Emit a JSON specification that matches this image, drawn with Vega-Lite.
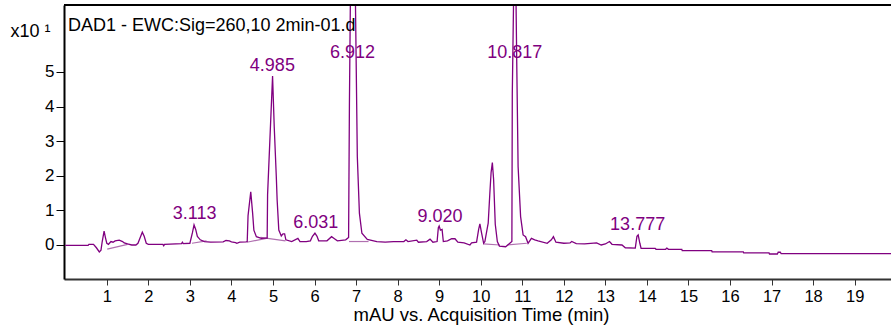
{
  "$schema": "https://vega.github.io/schema/vega-lite/v6.json",
  "width": 827,
  "height": 274,
  "autosize": {"type": "none"},
  "padding": {"left": 64, "top": 5, "right": 0, "bottom": 50},
  "background": "white",
  "config": {"view": {"stroke": null}, "font": "Liberation Sans"},
  "title": {
    "text": "DAD1 - EWC:Sig=260,10 2min-01.d",
    "anchor": "start",
    "frame": "group",
    "orient": "top",
    "baseline": "alphabetic",
    "offset": -45,
    "dx": 4,
    "fontSize": 18,
    "fontWeight": "normal",
    "color": "black",
    "font": "Liberation Sans"
  },
  "datasets": {
    "trace": [
      {"time": 0.0, "signal": -0.01}, {"time": 0.55, "signal": -0.01}, {"time": 0.57, "signal": 0.02},
      {"time": 0.68, "signal": 0.02}, {"time": 0.75, "signal": -0.08}, {"time": 0.82, "signal": -0.2},
      {"time": 0.86, "signal": -0.15}, {"time": 0.89, "signal": 0.1}, {"time": 0.935, "signal": 0.4},
      {"time": 0.97, "signal": 0.2}, {"time": 1.0, "signal": 0.05}, {"time": 1.04, "signal": 0.02},
      {"time": 1.1, "signal": 0.1}, {"time": 1.15, "signal": 0.08}, {"time": 1.2, "signal": 0.12},
      {"time": 1.3, "signal": 0.14}, {"time": 1.38, "signal": 0.1}, {"time": 1.42, "signal": 0.06},
      {"time": 1.5, "signal": 0.03}, {"time": 1.6, "signal": 0.0}, {"time": 1.7, "signal": 0.0},
      {"time": 1.75, "signal": 0.05}, {"time": 1.8, "signal": 0.2}, {"time": 1.855, "signal": 0.37},
      {"time": 1.9, "signal": 0.25}, {"time": 1.95, "signal": 0.05}, {"time": 2.0, "signal": 0.02},
      {"time": 2.35, "signal": 0.02}, {"time": 2.37, "signal": -0.02}, {"time": 2.39, "signal": 0.02},
      {"time": 2.8, "signal": 0.04}, {"time": 2.82, "signal": 0.08}, {"time": 2.84, "signal": 0.04},
      {"time": 3.0, "signal": 0.05}, {"time": 3.06, "signal": 0.35}, {"time": 3.1, "signal": 0.58},
      {"time": 3.14, "signal": 0.45}, {"time": 3.18, "signal": 0.25}, {"time": 3.25, "signal": 0.15},
      {"time": 3.35, "signal": 0.1}, {"time": 3.5, "signal": 0.08}, {"time": 3.8, "signal": 0.09},
      {"time": 3.87, "signal": 0.13}, {"time": 3.95, "signal": 0.12}, {"time": 4.0, "signal": 0.09},
      {"time": 4.1, "signal": 0.07}, {"time": 4.13, "signal": 0.05}, {"time": 4.2, "signal": 0.08},
      {"time": 4.35, "signal": 0.09}, {"time": 4.38, "signal": 0.1}, {"time": 4.4, "signal": 0.85},
      {"time": 4.465, "signal": 1.54}, {"time": 4.51, "signal": 0.92}, {"time": 4.54, "signal": 0.43},
      {"time": 4.6, "signal": 0.24}, {"time": 4.72, "signal": 0.19}, {"time": 4.83, "signal": 0.2},
      {"time": 4.86, "signal": 0.2}, {"time": 4.87, "signal": 1.45}, {"time": 4.99, "signal": 4.88},
      {"time": 5.03, "signal": 3.42}, {"time": 5.08, "signal": 1.97}, {"time": 5.1, "signal": 1.3},
      {"time": 5.14, "signal": 0.43}, {"time": 5.2, "signal": 0.26}, {"time": 5.24, "signal": 0.32},
      {"time": 5.28, "signal": 0.32}, {"time": 5.31, "signal": 0.15}, {"time": 5.45, "signal": 0.1},
      {"time": 5.6, "signal": 0.19}, {"time": 5.65, "signal": 0.1}, {"time": 5.8, "signal": 0.1},
      {"time": 5.9, "signal": 0.12}, {"time": 5.95, "signal": 0.25}, {"time": 6.01, "signal": 0.34},
      {"time": 6.06, "signal": 0.25}, {"time": 6.1, "signal": 0.12}, {"time": 6.3, "signal": 0.12},
      {"time": 6.41, "signal": 0.24}, {"time": 6.48, "signal": 0.18}, {"time": 6.55, "signal": 0.12},
      {"time": 6.75, "signal": 0.15}, {"time": 6.82, "signal": 0.22}, {"time": 6.84, "signal": 4.1},
      {"time": 6.87, "signal": 8.0}, {"time": 6.912, "signal": 9.5}, {"time": 6.98, "signal": 7.5},
      {"time": 7.0, "signal": 5.5}, {"time": 7.03, "signal": 2.55}, {"time": 7.08, "signal": 0.92},
      {"time": 7.14, "signal": 0.34}, {"time": 7.27, "signal": 0.16}, {"time": 7.5, "signal": 0.1},
      {"time": 7.7, "signal": 0.08}, {"time": 7.9, "signal": 0.1}, {"time": 8.15, "signal": 0.1},
      {"time": 8.2, "signal": 0.15}, {"time": 8.25, "signal": 0.1}, {"time": 8.46, "signal": 0.14},
      {"time": 8.5, "signal": 0.08}, {"time": 8.7, "signal": 0.1}, {"time": 8.78, "signal": 0.17},
      {"time": 8.85, "signal": 0.08}, {"time": 8.95, "signal": 0.1}, {"time": 8.98, "signal": 0.5},
      {"time": 9.0, "signal": 0.55}, {"time": 9.03, "signal": 0.43}, {"time": 9.07, "signal": 0.45},
      {"time": 9.1, "signal": 0.1}, {"time": 9.2, "signal": 0.12}, {"time": 9.3, "signal": 0.18},
      {"time": 9.38, "signal": 0.18}, {"time": 9.45, "signal": 0.08}, {"time": 9.6, "signal": 0.06},
      {"time": 9.74, "signal": 0.0}, {"time": 9.78, "signal": 0.06}, {"time": 9.9, "signal": 0.08},
      {"time": 9.95, "signal": 0.45}, {"time": 9.98, "signal": 0.61}, {"time": 10.02, "signal": 0.35},
      {"time": 10.07, "signal": 0.05}, {"time": 10.1, "signal": 0.1}, {"time": 10.16, "signal": 0.5},
      {"time": 10.18, "signal": 0.63}, {"time": 10.22, "signal": 1.5}, {"time": 10.25, "signal": 2.1},
      {"time": 10.28, "signal": 2.38}, {"time": 10.31, "signal": 1.9}, {"time": 10.35, "signal": 0.6},
      {"time": 10.4, "signal": 0.1}, {"time": 10.45, "signal": -0.03}, {"time": 10.6, "signal": -0.05},
      {"time": 10.7, "signal": 0.05}, {"time": 10.75, "signal": 0.1}, {"time": 10.76, "signal": 4.38},
      {"time": 10.79, "signal": 7.0}, {"time": 10.817, "signal": 9.5}, {"time": 10.85, "signal": 7.0},
      {"time": 10.87, "signal": 5.0}, {"time": 10.9, "signal": 2.26}, {"time": 10.96, "signal": 0.82},
      {"time": 11.02, "signal": 0.29}, {"time": 11.08, "signal": 0.24}, {"time": 11.14, "signal": 0.05},
      {"time": 11.22, "signal": 0.19}, {"time": 11.3, "signal": 0.15}, {"time": 11.38, "signal": 0.12},
      {"time": 11.6, "signal": 0.05}, {"time": 11.7, "signal": 0.15}, {"time": 11.75, "signal": 0.24},
      {"time": 11.81, "signal": 0.08}, {"time": 12.0, "signal": 0.05}, {"time": 12.15, "signal": 0.06},
      {"time": 12.19, "signal": 0.1}, {"time": 12.3, "signal": 0.04}, {"time": 12.5, "signal": 0.03},
      {"time": 12.79, "signal": 0.06}, {"time": 12.9, "signal": 0.0}, {"time": 13.0, "signal": 0.03},
      {"time": 13.1, "signal": 0.1}, {"time": 13.16, "signal": 0.02}, {"time": 13.4, "signal": 0.0},
      {"time": 13.48, "signal": -0.08}, {"time": 13.72, "signal": -0.09}, {"time": 13.76, "signal": 0.25},
      {"time": 13.79, "signal": 0.29}, {"time": 13.83, "signal": 0.05}, {"time": 13.86, "signal": -0.1},
      {"time": 14.2, "signal": -0.1}, {"time": 14.22, "signal": -0.125}, {"time": 14.45, "signal": -0.125},
      {"time": 14.48, "signal": -0.09}, {"time": 14.52, "signal": -0.125}, {"time": 14.84, "signal": -0.125},
      {"time": 14.85, "signal": -0.165}, {"time": 15.56, "signal": -0.165}, {"time": 15.57, "signal": -0.2},
      {"time": 16.32, "signal": -0.2}, {"time": 16.33, "signal": -0.23}, {"time": 16.94, "signal": -0.23},
      {"time": 16.95, "signal": -0.26}, {"time": 17.14, "signal": -0.26}, {"time": 17.16, "signal": -0.21},
      {"time": 17.21, "signal": -0.21}, {"time": 17.23, "signal": -0.25}, {"time": 19.9, "signal": -0.25}
    ],
    "baselines": [
      {"seg": "p1", "time": 1.01, "signal": -0.12}, {"seg": "p1", "time": 1.5, "signal": 0.02},
      {"seg": "p2", "time": 3.05, "signal": 0.05}, {"seg": "p2", "time": 3.4, "signal": 0.12},
      {"seg": "p3", "time": 4.37, "signal": 0.08}, {"seg": "p3", "time": 4.87, "signal": 0.2},
      {"seg": "p4", "time": 4.7, "signal": 0.22}, {"seg": "p4", "time": 5.3, "signal": 0.12},
      {"seg": "p5", "time": 6.83, "signal": 0.1}, {"seg": "p5", "time": 7.3, "signal": 0.1},
      {"seg": "p6", "time": 10.06, "signal": 0.03}, {"seg": "p6", "time": 10.46, "signal": 0.0},
      {"seg": "p7", "time": 10.64, "signal": 0.0}, {"seg": "p7", "time": 11.11, "signal": 0.05}
    ],
    "peaks": [
      {"time": 3.113, "labelY": 0.89, "label": "3.113"},
      {"time": 4.985, "labelY": 5.16, "label": "4.985"},
      {"time": 6.031, "labelY": 0.63, "label": "6.031"},
      {"time": 6.912, "labelY": 5.56, "label": "6.912"},
      {"time": 9.02, "labelY": 0.82, "label": "9.020"},
      {"time": 10.817, "labelY": 5.56, "label": "10.817"},
      {"time": 13.777, "labelY": 0.59, "label": "13.777"}
    ]
  },
  "layer": [
    {
      "data": {"name": "baselines"},
      "mark": {"type": "line", "color": "#b070b0", "strokeWidth": 1.2, "clip": true},
      "encoding": {
        "x": {"field": "time", "type": "quantitative", "scale": {"domain": [-0.03, 19.875], "nice": false, "zero": false}},
        "y": {"field": "signal", "type": "quantitative", "scale": {"domain": [-0.983, 6.936], "nice": false, "zero": false}},
        "detail": {"field": "seg"}
      }
    },
    {
      "data": {"name": "trace"},
      "mark": {"type": "line", "color": "#800080", "strokeWidth": 1.3, "clip": true},
      "encoding": {
        "x": {
          "field": "time", "type": "quantitative",
          "scale": {"domain": [-0.03, 19.875], "nice": false, "zero": false},
          "axis": {
            "values": [1, 2, 3, 4, 5, 6, 7, 8, 9, 10, 11, 12, 13, 14, 15, 16, 17, 18, 19],
            "title": "mAU vs. Acquisition Time (min)",
            "titleFontSize": 18.5, "titleFontWeight": "normal", "titleColor": "black",
            "titleBaseline": "alphabetic", "titleY": 41, "titleX": 417,
            "labelFontSize": 16.5, "labelColor": "black", "labelPadding": 3,
            "tickSize": 6, "tickColor": "#333", "domainColor": "#333", "domainWidth": 2,
            "grid": false, "labelFlush": false
          }
        },
        "y": {
          "field": "signal", "type": "quantitative",
          "scale": {"domain": [-0.983, 6.936], "nice": false, "zero": false},
          "axis": {
            "values": [0, 1, 2, 3, 4, 5],
            "title": "x10 ¹",
            "titleAngle": 0, "titleAlign": "left", "titleBaseline": "alphabetic",
            "titleX": -54, "titleY": 31, "titleFontSize": 18, "titleFontWeight": "normal", "titleColor": "black",
            "labelFontSize": 17, "labelColor": "black", "labelPadding": 2,
            "tickSize": 8, "tickColor": "black", "domainColor": "black", "domainWidth": 2,
            "grid": false
          }
        }
      }
    },
    {
      "data": {"name": "peaks"},
      "mark": {"type": "text", "color": "#800080", "fontSize": 18, "baseline": "middle", "align": "center", "font": "Liberation Sans"},
      "encoding": {
        "x": {"field": "time", "type": "quantitative"},
        "y": {"field": "labelY", "type": "quantitative"},
        "text": {"field": "label"}
      }
    },
    {
      "data": {"values": [{"top": 6.936}]},
      "mark": {"type": "rule", "color": "black", "strokeWidth": 2},
      "encoding": {"y": {"field": "top", "type": "quantitative"}}
    }
  ]
}
